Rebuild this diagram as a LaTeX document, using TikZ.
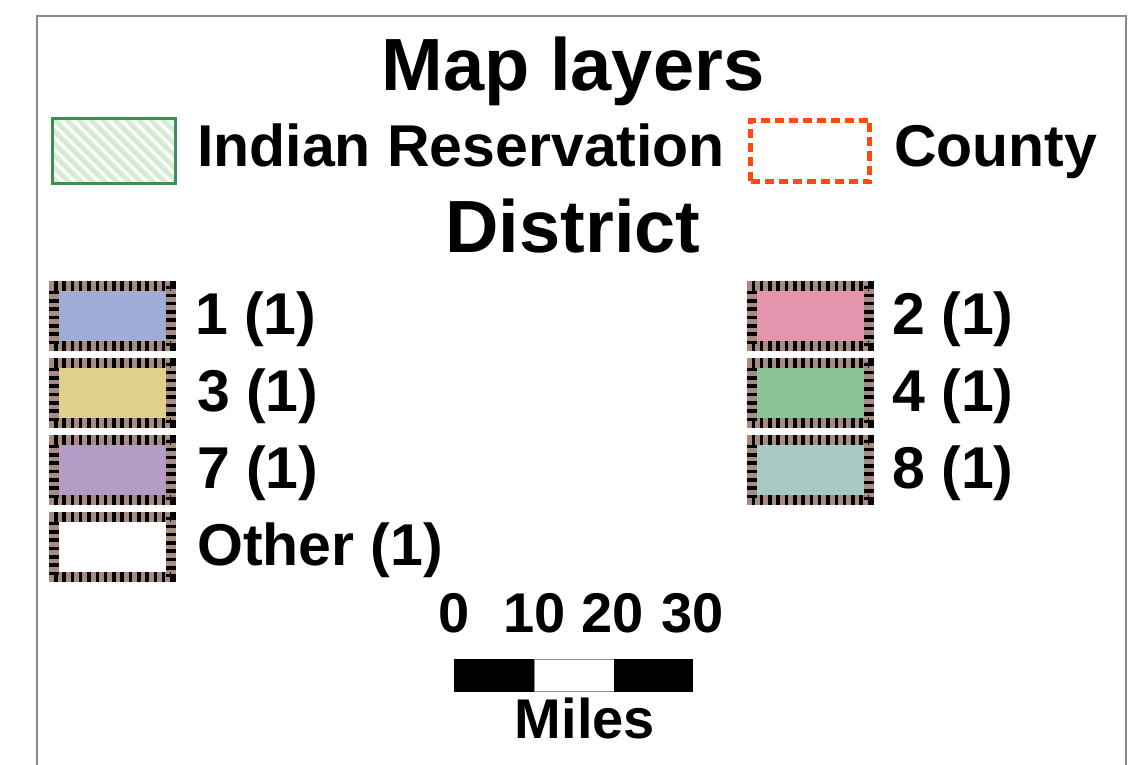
\documentclass[tikz,border=0pt]{standalone}
\usepackage{fontspec}
\setmainfont{Liberation Sans}
\usepackage{xcolor}
\usepackage{tikz}
\definecolor{framegray}{HTML}{8A8A8A}
\definecolor{tickbrown}{HTML}{A88C84}
\definecolor{resgreen}{HTML}{3F8F55}
\definecolor{resstripe}{HTML}{D4EDD4}
\definecolor{countyred}{HTML}{FF4A0A}
\definecolor{dOne}{HTML}{9EACD6}
\definecolor{dTwo}{HTML}{E596AE}
\definecolor{dThree}{HTML}{E1D08B}
\definecolor{dFour}{HTML}{8DC196}
\definecolor{dSeven}{HTML}{B49CC6}
\definecolor{dEight}{HTML}{A8C8C4}

\begin{document}
\begin{tikzpicture}[x=1pt,y=-1pt,
  big/.style={font=\fontsize{74}{80}\selectfont\bfseries, inner sep=0, anchor=base},
  lbl/.style={font=\fontsize{59}{64}\selectfont\bfseries, inner sep=0, anchor=base west},
  num/.style={font=\fontsize{56}{60}\selectfont\bfseries, inner sep=0, anchor=base},
  distbox/.style={minimum width=117pt, minimum height=60pt, inner sep=0,
    draw=tickbrown, line width=10pt,
    postaction={draw=black, line width=10pt, dash pattern=on 3.5pt off 4.8pt}}]
\useasboundingbox (0,0) rectangle (1143,765);
\draw [framegray, line width=1.5pt] (37,775) |- (1126,16) -- (1126,775);

\node [big] (title) at (573,91) {Map layers};

\node [draw=resgreen, line width=3pt, minimum width=123pt, minimum height=64pt, inner sep=0,
  path picture={\foreach \k in {-70,-58,...,140}
    \draw [resstripe, line width=5pt] ([xshift=\k pt]path picture bounding box.north west) -- ++(80pt,-80pt);}]
  (res) at (113.5,151) {};
\node [lbl] (reslbl) at (197,167) {Indian Reservation};
\node [draw=countyred, line width=5.5pt, dash pattern=on 9pt off 5pt, minimum width=119pt, minimum height=61pt, inner sep=0]
  (county) at (810,151) {};
\node [lbl] (countylbl) at (894,167) {County};

\node [big] (district) at (573,252) {District};

\node [distbox, fill=dOne] (d1) at (112.5,316) {};
\node [lbl] (d1lbl) at (195,334) {1 (1)};
\node [distbox, fill=dThree] (d3) at (112.5,393) {};
\node [lbl] (d3lbl) at (197,411) {3 (1)};
\node [distbox, fill=dSeven] (d7) at (112.5,470) {};
\node [lbl] (d7lbl) at (197,488) {7 (1)};
\node [distbox, fill=white] (dother) at (112.5,547) {};
\node [lbl] (dotherlbl) at (197,565) {Other (1)};

\node [distbox, fill=dTwo] (d2) at (810,316) {};
\node [lbl] (d2lbl) at (892,334) {2 (1)};
\node [distbox, fill=dFour] (d4) at (810,393) {};
\node [lbl] (d4lbl) at (892,411) {4 (1)};
\node [distbox, fill=dEight] (d8) at (810,470) {};
\node [lbl] (d8lbl) at (892,488) {8 (1)};

\node [num] (s0) at (454,632) {0};
\node [num] (s10) at (535,632) {10};
\node [num] (s20) at (613,632) {20};
\node [num] (s30) at (693,632) {30};
\fill [black] (454,659) rectangle (534,692);
\draw [framegray, fill=white, line width=1pt] (534,659.5) rectangle (614,691.5);
\fill [black] (614,659) rectangle (693,692);
\node [num] (miles) at (585,738) {Miles};
\end{tikzpicture}
\end{document}
